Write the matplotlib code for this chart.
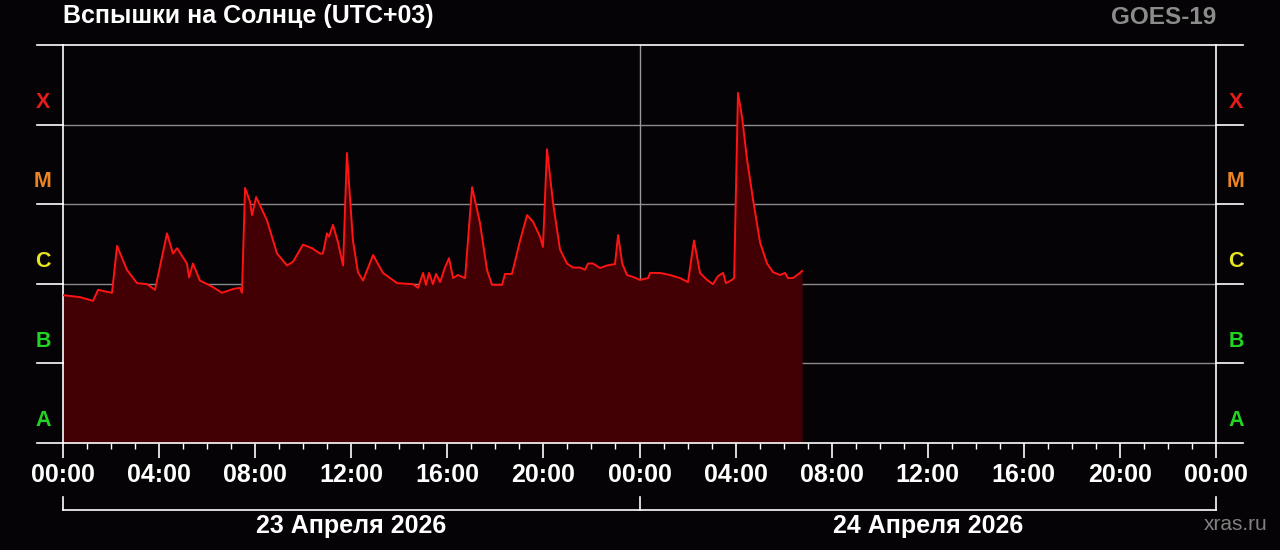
import numpy as np
import matplotlib
matplotlib.use('Agg')
import matplotlib.pyplot as plt

plt.rcParams['font.family'] = ['Liberation Sans', 'DejaVu Sans']

# GOES-19 X-ray flux, hours from 23 Apr 00:00 (UTC+03)
hours = [0.0, 0.71, 1.25, 1.46, 2.04, 2.25, 2.66, 3.08, 3.50, 3.83,
         4.33, 4.58, 4.75, 5.16, 5.25, 5.41, 5.70, 6.24, 6.62, 7.08,
         7.37, 7.45, 7.58, 7.79, 7.87, 8.04, 8.49, 8.91, 9.33, 9.58,
         9.99, 10.37, 10.70, 10.82, 10.99, 11.07, 11.24, 11.45, 11.66, 11.82,
         12.07, 12.28, 12.49, 12.91, 13.32, 13.91, 14.57, 14.78, 14.99, 15.11,
         15.24, 15.40, 15.53, 15.70, 15.90, 16.07, 16.24, 16.44, 16.74, 17.03,
         17.36, 17.65, 17.86, 18.28, 18.40, 18.69, 19.03, 19.32, 19.57, 19.86,
         19.98, 20.15, 20.40, 20.69, 20.98, 21.23, 21.52, 21.73, 21.86, 22.06,
         22.36, 22.65, 22.98, 23.11, 23.28, 23.48, 23.73, 24.02, 24.36, 24.44,
         24.85, 25.27, 25.69, 26.02, 26.27, 26.52, 26.81, 27.06, 27.27, 27.48,
         27.60, 27.85, 27.94, 28.10, 28.27, 28.48, 28.73, 29.02, 29.31, 29.56,
         29.85, 30.06, 30.18, 30.39, 30.68, 30.77]
flux = [7.2e-7, 6.8e-7, 6.1e-7, 8.4e-7, 7.7e-7, 3.0e-6, 1.5e-6, 1.02e-6, 9.9e-7, 8.4e-7,
        4.3e-6, 2.4e-6, 2.8e-6, 1.8e-6, 1.2e-6, 1.8e-6, 1.1e-6, 9.1e-7, 7.7e-7, 8.6e-7,
        8.9e-7, 7.7e-7, 1.6e-5, 1.07e-5, 7.3e-6, 1.23e-5, 6.3e-6, 2.4e-6, 1.7e-6, 1.9e-6,
        3.1e-6, 2.8e-6, 2.4e-6, 2.4e-6, 4.3e-6, 3.9e-6, 5.5e-6, 3.3e-6, 1.7e-6, 4.4e-5,
        3.5e-6, 1.4e-6, 1.1e-6, 2.3e-6, 1.37e-6, 1.02e-6, 9.9e-7, 8.9e-7, 1.37e-6, 9.7e-7,
        1.37e-6, 9.9e-7, 1.33e-6, 1.05e-6, 1.6e-6, 2.1e-6, 1.18e-6, 1.29e-6, 1.18e-6, 1.64e-5,
        5.8e-6, 1.5e-6, 9.7e-7, 9.7e-7, 1.33e-6, 1.33e-6, 3.5e-6, 7.3e-6, 6.0e-6, 3.9e-6,
        2.9e-6, 4.9e-5, 1.04e-5, 2.7e-6, 1.8e-6, 1.6e-6, 1.6e-6, 1.5e-6, 1.8e-6, 1.8e-6,
        1.58e-6, 1.7e-6, 1.77e-6, 4.1e-6, 1.8e-6, 1.29e-6, 1.22e-6, 1.12e-6, 1.18e-6, 1.37e-6,
        1.37e-6, 1.29e-6, 1.18e-6, 1.05e-6, 3.5e-6, 1.37e-6, 1.12e-6, 9.9e-7, 1.25e-6, 1.37e-6,
        1.02e-6, 1.12e-6, 1.18e-6, 2.5e-4, 1.24e-4, 3.6e-5, 1.13e-5, 3.3e-6, 1.8e-6, 1.4e-6,
        1.29e-6, 1.37e-6, 1.18e-6, 1.18e-6, 1.37e-6, 1.45e-6]

classes = ['A', 'B', 'C', 'M', 'X']
class_colors = ['#22d422', '#22d422', '#e8e420', '#ec8424', '#e41c1c']
tick_labels = ['00:00', '04:00', '08:00', '12:00', '16:00', '20:00',
               '00:00', '04:00', '08:00', '12:00', '16:00', '20:00', '00:00']
dates = ['23 Апреля 2026', '24 Апреля 2026']

bg = '#050305'
fig = plt.figure(figsize=(12.8, 5.5), dpi=100, facecolor=bg)
ax = fig.add_axes([63 / 1280, 107 / 550, 1153 / 1280, 398 / 550])
ax.set_facecolor(bg)
ax.set_yscale('log')
ax.set_xlim(0, 48)
ax.set_ylim(1e-8, 1e-3)

# grid between classes
for k in range(1, 5):
    ax.axhline(10.0 ** (-8 + k), color='#8a8a8a', lw=1.0, zorder=1)
ax.axvline(24, color='#9a9a9a', lw=1.0, zorder=1)

ax.fill_between(hours, flux, 1e-8, color='#420004', lw=0, zorder=2)
ax.plot(hours, flux, color='#ff1414', lw=1.4, zorder=3)

for s in ax.spines.values():
    s.set_color('white')
    s.set_linewidth(1.2)

# outer stubs and long top/bottom lines
ytr = ax.get_yaxis_transform()
lo, hi = -26 / 1153, 1 + 27 / 1153
for k in range(6):
    y = 10.0 ** (-8 + k)
    ax.plot([lo, 0], [y, y], color='white', lw=1.2, transform=ytr, clip_on=False)
    ax.plot([1, hi], [y, y], color='white', lw=1.2, transform=ytr, clip_on=False)

# class letters on both sides
for k, (c, col) in enumerate(zip(classes, class_colors)):
    ymid = 10.0 ** (-7.72 + k)
    for xa in (-20 / 1153, 1 + 20 / 1153):
        ax.text(xa, ymid, c, color=col, fontsize=15.5, fontweight='bold',
                ha='center', va='center', transform=ytr)

ax.set_yticks([])
ax.minorticks_off()
ax.set_xticks(np.arange(0, 49, 4))
ax.set_xticklabels(tick_labels)
ax.set_xticks(np.arange(0, 49, 1), minor=True)
ax.tick_params(axis='x', which='major', length=10.5, width=1.2, color='white',
               labelcolor='white', labelsize=18, pad=4)
ax.tick_params(axis='x', which='minor', length=4.5, width=1.0, color='white')
for lab in ax.get_xticklabels():
    lab.set_fontweight('bold')

# date brackets
xtr = ax.get_xaxis_transform()
yb, yt = -67 / 398, -54 / 398
ax.plot([0, 48], [yb, yb], color='white', lw=1.2, transform=xtr, clip_on=False)
for xv in (0, 24, 48):
    ax.plot([xv, xv], [yb, yt], color='white', lw=1.2, transform=xtr, clip_on=False)
for i, d in enumerate(dates):
    ax.text(12 + 24 * i, -83 / 398, d, color='white', fontsize=18, fontweight='bold',
            ha='center', va='center', transform=xtr)

fig.text(63 / 1280, 1 - 16 / 550, 'Вспышки на Солнце (UTC+03)', color='white',
         fontsize=18, fontweight='bold', ha='left', va='center')
fig.text(1216 / 1280, 1 - 18 / 550, 'GOES-19', color='#8c8c8c',
         fontsize=17.5, fontweight='bold', ha='right', va='center')
fig.text(1268 / 1280, 1 - 525 / 550, 'xras.ru', color='#808080',
         fontsize=15, ha='right', va='center')

fig.savefig('out.png', dpi=100, facecolor=bg)
